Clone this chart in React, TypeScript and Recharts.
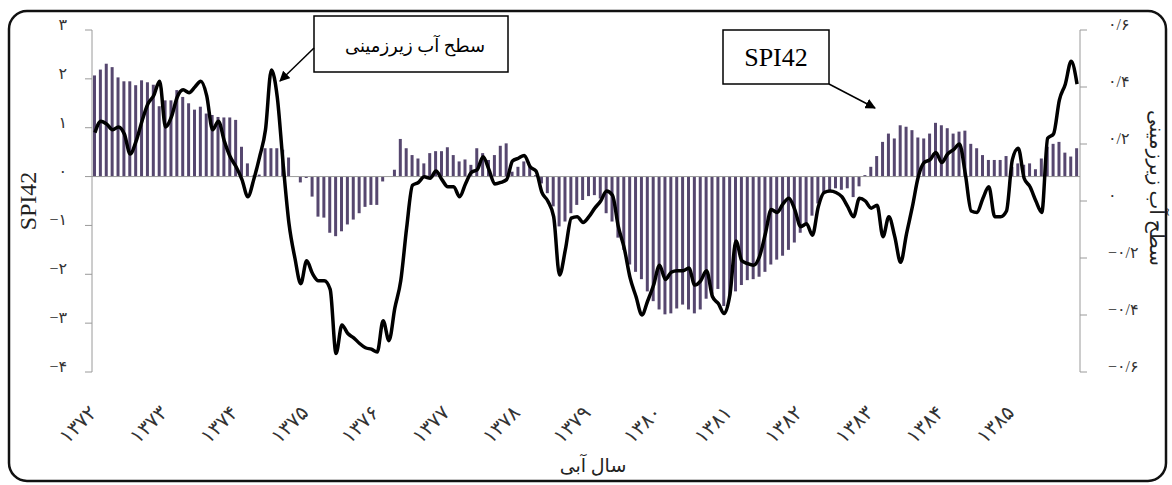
import React from 'react';
import {
  ComposedChart,
  Bar,
  Line,
  XAxis,
  YAxis,
  ReferenceLine,
} from 'recharts';

const FONT = "'Liberation Serif', 'DejaVu Sans', serif";

// سال‌های آبی (هر سال ۱۲ ماه)
const years = ['۱۳۷۲', '۱۳۷۳', '۱۳۷۴', '۱۳۷۵', '۱۳۷۶', '۱۳۷۷', '۱۳۷۸', '۱۳۷۹', '۱۳۸۰', '۱۳۸۱', '۱۳۸۲', '۱۳۸۳', '۱۳۸۴', '۱۳۸۵'];

// SPI42 monthly values (left axis)
const spi = [
  2.07, 2.19, 2.31, 2.24, 2.03, 1.95, 1.95, 1.87, 1.97, 1.93, 1.88, 1.44,
  1.56, 1.56, 1.77, 1.63, 1.5, 1.37, 1.43, 1.29, 1.26, 1.22, 1.21, 1.21,
  1.16, 0.61, 0.27, 0.02, 0.04, 0.58, 0.58, 0.58, 0.55, 0.39, 0.0, -0.12,
  -0.03, -0.41, -0.82, -0.84, -1.15, -1.22, -1.12, -0.98, -0.88, -0.75, -0.62, -0.58,
  -0.58, -0.1, 0.0, 0.14, 0.77, 0.58, 0.44, 0.37, 0.27, 0.48, 0.52, 0.52,
  0.6, 0.44, 0.31, 0.35, 0.24, 0.58, 0.48, 0.34, 0.44, 0.63, 0.68, 0.1,
  0.2, 0.31, 0.24, 0.03, -0.14, -0.34, -0.61, -1.02, -0.92, -0.75, -0.58, -0.48,
  -0.4, -0.38, -0.45, -0.75, -0.92, -1.25, -1.5, -1.8, -1.95, -2.1, -2.35, -2.55,
  -2.72, -2.82, -2.8, -2.7, -2.62, -2.72, -2.8, -2.72, -2.5, -2.4, -2.3, -2.65,
  -2.45, -2.35, -2.22, -2.12, -2.1, -2.05, -1.95, -1.8, -1.7, -1.62, -1.5, -1.35,
  -1.15, -1.0, -0.8, -0.55, -0.35, -0.3, -0.24, -0.27, -0.24, -0.42, -0.2, 0.03,
  0.2, 0.42, 0.71, 0.88, 0.78, 1.05, 1.02, 0.95, 0.8, 0.78, 0.88, 1.1,
  1.05, 0.99, 0.88, 0.92, 0.94, 0.67, 0.58, 0.44, 0.34, 0.34, 0.34, 0.42,
  0.2, 0.27, 0.24, 0.27, 0.15, 0.37, 0.61, 0.67, 0.71, 0.49, 0.41, 0.58,
];

// سطح آب زیرزمینی (right axis)
const groundwater = [
  0.24, 0.28, 0.27, 0.25, 0.26, 0.235, 0.165, 0.21, 0.28, 0.34, 0.37, 0.42,
  0.26, 0.295, 0.365, 0.39, 0.38, 0.4, 0.42, 0.37, 0.25, 0.28, 0.21, 0.155,
  0.12, 0.075, 0.015, 0.075, 0.155, 0.25, 0.46, 0.365, 0.13, -0.08, -0.2, -0.29,
  -0.21, -0.255, -0.28, -0.28, -0.31, -0.535, -0.435, -0.465, -0.48, -0.5, -0.515, -0.52,
  -0.53, -0.42, -0.49, -0.375, -0.28, -0.095, 0.055, 0.065, 0.085, 0.08, 0.105, 0.075,
  0.05, 0.05, 0.015, 0.06, 0.1, 0.11, 0.155, 0.11, 0.06, 0.065, 0.075, 0.14,
  0.15, 0.16, 0.12, 0.105, 0.03, 0.0, -0.055, -0.26, -0.17, -0.06, -0.055, -0.075,
  -0.055, -0.025, 0.0, 0.035, 0.02, -0.09, -0.165, -0.27, -0.335, -0.4, -0.35, -0.295,
  -0.225, -0.275, -0.25, -0.245, -0.245, -0.235, -0.295, -0.28, -0.245, -0.335, -0.36, -0.395,
  -0.325, -0.14, -0.21, -0.22, -0.225, -0.195, -0.115, -0.03, -0.04, -0.01, 0.01, -0.03,
  -0.09, -0.08, -0.12, -0.02, 0.03, 0.035, 0.03, 0.015, -0.02, -0.055, 0.01, 0.0,
  -0.025, -0.015, -0.125, -0.055, -0.125, -0.215, -0.115, -0.02, 0.085, 0.135, 0.145, 0.17,
  0.135, 0.165, 0.18, 0.2, 0.095, -0.035, -0.04, 0.01, 0.05, -0.055, -0.055, -0.035,
  0.145, 0.185, 0.08, 0.05, 0.0, -0.04, 0.22, 0.235, 0.355, 0.41, 0.49, 0.41,
];

const leftTicks = [-4, -3, -2, -1, 0, 1, 2, 3];
const rightTicks = [-0.6, -0.4, -0.2, 0, 0.2, 0.4, 0.6];

const data = spi.map((v, i) => ({ m: i, spi: v, gw: groundwater[i] }));
const yearTicks = years.map((_, k) => k * 12);

const faDigits = '۰۱۲۳۴۵۶۷۸۹';
function toFa(v: number, decimals = 0) {
  const s = Math.abs(v) < 1e-9 ? '0' : v.toFixed(decimals);
  return s
    .replace(/\d/g, (d) => faDigits[Number(d)])
    .replace('.', '/')
    .replace('-', '−');
}

function LeftTick({ x, y, payload }: any) {
  return (
    <text x={x} y={y} textAnchor="end" fontSize={16} fill="#333" fontFamily={FONT}>
      {toFa(payload.value)}
    </text>
  );
}

function RightTick({ x, y, payload }: any) {
  return (
    <text x={x} y={y} textAnchor="start" fontSize={16} fill="#333" fontFamily={FONT}>
      {toFa(payload.value, 1)}
    </text>
  );
}

function YearTick({ x, y, payload }: any) {
  const tx = x + 3;
  const ty = y + 42;
  return (
    <text
      x={tx}
      y={ty}
      textAnchor="end"
      fontSize={20}
      fill="#333"
      fontFamily={FONT}
      transform={`rotate(-45 ${tx} ${ty})`}
    >
      {years[Math.floor(payload.value / 12)]}
    </text>
  );
}

export default function App() {
  return (
    <div style={{ position: 'absolute', left: 0, top: 0, width: 1172, height: 485, background: '#fff' }}>
      <ComposedChart
        width={1172}
        height={485}
        data={data}
        margin={{ top: 30, right: 30, bottom: 0, left: 30 }}
      >
        <XAxis
          dataKey="m"
          height={113}
          ticks={yearTicks}
          interval={0}
          tick={<YearTick />}
          axisLine={false}
          tickLine={false}
          tickSize={0}
          tickMargin={0}
        />
        <YAxis
          yAxisId="left"
          domain={[-4, 3]}
          ticks={leftTicks}
          width={62}
          tickSize={7}
          tickMargin={18}
          stroke="#9a9a9a"
          tick={<LeftTick />}
        />
        <YAxis
          yAxisId="right"
          orientation="right"
          domain={[-0.6, 0.6]}
          ticks={rightTicks}
          width={62}
          tickSize={7}
          tickMargin={21}
          stroke="#9a9a9a"
          tick={<RightTick />}
        />
        <ReferenceLine yAxisId="left" y={0} stroke="#9a9a9a" />
        <Bar yAxisId="left" dataKey="spi" fill="#56476f" barSize={3} isAnimationActive={false} />
        <Line
          yAxisId="right"
          dataKey="gw"
          type="monotone"
          stroke="#000"
          strokeWidth={3.5}
          dot={false}
          isAnimationActive={false}
        />
      </ComposedChart>

      <svg
        width={1172}
        height={485}
        style={{ position: 'absolute', left: 0, top: 0, pointerEvents: 'none' }}
      >
        <defs>
          <marker id="arrow" viewBox="0 0 10 10" refX="9" refY="5" markerWidth="7" markerHeight="7" orient="auto">
            <path d="M0,0 L10,5 L0,10 z" fill="#000" />
          </marker>
        </defs>
        <rect x={9} y={11} width={1157} height={470} rx={18} fill="none" stroke="#111" strokeWidth={2.5} />

        <text
          x={0}
          y={0}
          transform="translate(36 201) rotate(-90)"
          textAnchor="middle"
          fontSize={24}
          fontFamily={FONT}
          fill="#222"
        >
          SPI42
        </text>
        <text
          x={0}
          y={0}
          transform="translate(1150 188) rotate(90)"
          textAnchor="middle"
          fontSize={20}
          fontFamily={FONT}
          fill="#222"
        >
          سطح آب زیرزمینی
        </text>
        <text x={593} y={472} textAnchor="middle" fontSize={19} fontFamily={FONT} fill="#222">
          سال آبی
        </text>

        <rect x={314} y={16} width={194} height={56} fill="#fff" stroke="#000" strokeWidth={1.5} />
        <text x={415} y={52} textAnchor="middle" fontSize={18} fontFamily={FONT} fill="#000">
          سطح آب زیرزمینی
        </text>
        <line x1={314} y1={48} x2={280} y2={81} stroke="#000" strokeWidth={1.5} markerEnd="url(#arrow)" />

        <rect x={723} y={30} width={106} height={54} fill="#fff" stroke="#000" strokeWidth={1.5} />
        <text x={776} y={66} textAnchor="middle" fontSize={26} fontFamily={FONT} fill="#000">
          SPI42
        </text>
        <line x1={829} y1={84} x2={875} y2={108} stroke="#000" strokeWidth={1.5} markerEnd="url(#arrow)" />
      </svg>
    </div>
  );
}
